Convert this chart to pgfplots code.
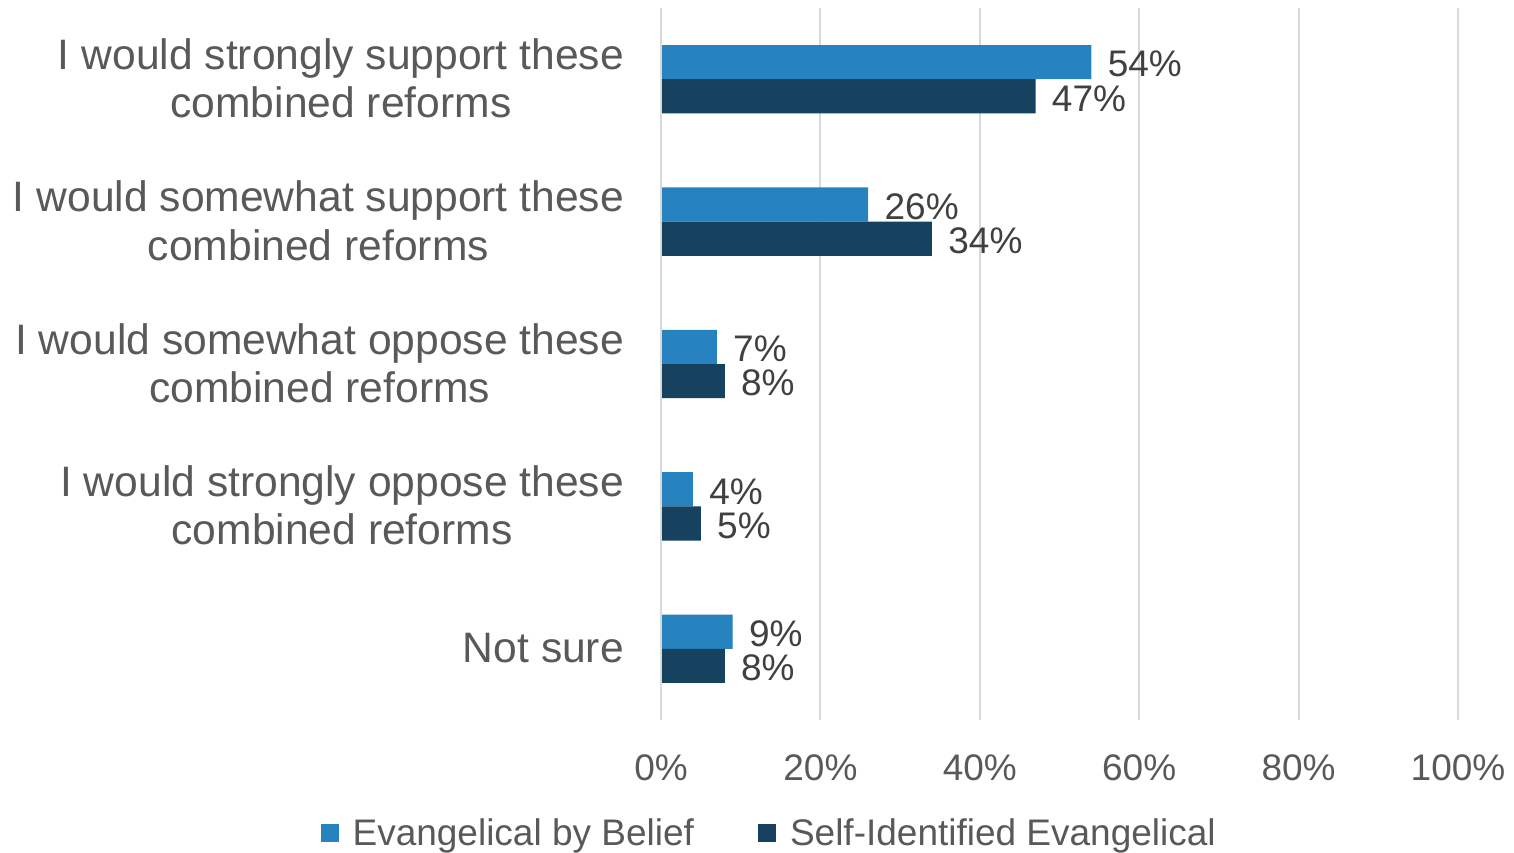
\documentclass[border=0pt]{standalone}
\usepackage{fontspec}
\setmainfont{Liberation Sans}
\usepackage{pgfplots}
\pgfplotsset{compat=1.18}
\definecolor{cLight}{HTML}{2683C0}
\definecolor{cDark}{HTML}{16415F}
\definecolor{cText}{HTML}{595959}
\definecolor{cLab}{HTML}{404040}
\definecolor{cGrid}{HTML}{D9D9D9}
\begin{document}
\begin{tikzpicture}
\path[use as bounding box] (-330.5pt,-66pt) rectangle (426.5pt,360pt);
\begin{axis}[
  at={(0pt,0pt)}, anchor=south west,
  scale only axis, width=398.5pt, height=356pt,
  xbar, bar width=0.24,
  xmin=0, xmax=100, ymin=-0.5, ymax=4.5,
  xtick={0,20,...,100},
  xticklabel={\pgfmathprintnumber{\tick}\%},
  /pgf/number format/assume math mode=true,
  ytick={0,1,2,3,4},
  yticklabels={Not sure,
    {I would strongly oppose these\\combined reforms},
    {I would somewhat oppose these\\combined reforms},
    {I would somewhat support these\\combined reforms},
    {I would strongly support these\\combined reforms}},
  yticklabel style={align=center, font=\fontsize{21.3}{24.2}\selectfont, text=cText, xshift=-15pt, yshift=0.5pt},
  xticklabel style={font=\fontsize{18.5}{22}\selectfont, text=cText, yshift=-14pt},
  major tick length=0pt,
  axis line style={draw=none},
  xmajorgrids, grid style={cGrid, line width=1pt},
  nodes near coords={\pgfmathprintnumber{\pgfplotspointmeta}\%},
  point meta=x,
  every node near coord/.append style={font=\fontsize{18.5}{22}\selectfont, text=cLab, anchor=west, inner sep=0pt, xshift=8pt, yshift=-1pt},
  legend columns=2,
  legend style={at={(0.137,-0.159)}, anchor=center, draw=none, fill=none,
    font=\fontsize{18.5}{22}\selectfont, text=cText,
    /tikz/every even column/.append style={column sep=30pt}},
  legend image code/.code={\fill[#1] (0pt,-4.5pt) rectangle (9pt,4.5pt); \path (14pt,0pt);},
  clip=false,
]
\addplot[fill=cLight, draw=none, bar shift=0.12] coordinates {(9,0) (4,1) (7,2) (26,3) (54,4)};
\addplot[fill=cDark, draw=none, bar shift=-0.12] coordinates {(8,0) (5,1) (8,2) (34,3) (47,4)};
\draw[cGrid, line width=1pt] (axis cs:0,-0.5) -- (axis cs:0,4.5);
\legend{Evangelical by Belief, Self-Identified Evangelical}
\end{axis}
\end{tikzpicture}
\end{document}
